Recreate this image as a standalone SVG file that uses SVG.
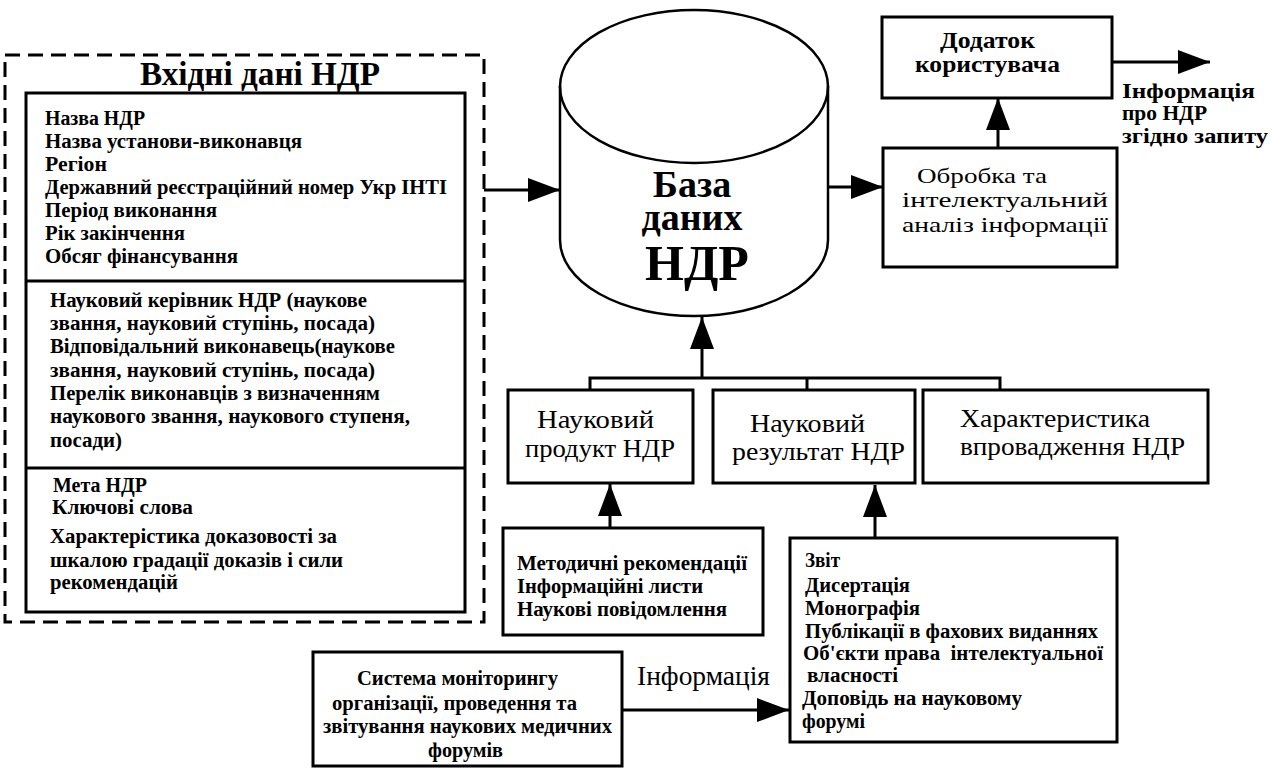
<svg xmlns="http://www.w3.org/2000/svg" width="1281" height="769" viewBox="0 0 1281 769">
<style>
.box{fill:#fff;stroke:#000;stroke-width:3}
.thin{fill:none;stroke:#000;stroke-width:2.5}
.dash{fill:none;stroke:#000;stroke-width:3;stroke-dasharray:15 8}
.ln{fill:none;stroke:#000;stroke-width:3}
text{font-family:'Liberation Serif','DejaVu Serif',serif;fill:#000}
.b{font-weight:bold}
.s20{font-size:20.5px}
.s18{font-size:20px}
.lab{font-size:26px}
.c{text-anchor:middle}
</style>
<defs>
<marker id="ah" viewBox="0 0 32 24" refX="32" refY="12" markerWidth="32" markerHeight="24" markerUnits="userSpaceOnUse" orient="auto">
<path d="M0,0 L32,12 L0,24 z" fill="#000"/>
</marker>
</defs>
<rect width="1281" height="769" fill="#fff"/>

<g id="input-data">
<rect class="dash" x="5" y="55" width="479" height="567"/>
<text class="b c" x="260" y="85" font-size="33" textLength="240" lengthAdjust="spacingAndGlyphs">Вхідні дані НДР</text>
<rect class="box" x="26" y="93" width="439" height="519"/>
<line class="ln" x1="26" y1="281" x2="465" y2="281"/>
<line class="ln" x1="26" y1="468" x2="465" y2="468"/>
<g class="b s20">
<text x="45" y="125" textLength="100" lengthAdjust="spacingAndGlyphs">Назва НДР</text>
<text x="45" y="148" textLength="257" lengthAdjust="spacingAndGlyphs">Назва установи-виконавця</text>
<text x="45" y="171" textLength="62" lengthAdjust="spacingAndGlyphs">Регіон</text>
<text x="45" y="194" textLength="402" lengthAdjust="spacingAndGlyphs">Державний реєстраційний номер Укр ІНТІ</text>
<text x="45" y="217" textLength="172" lengthAdjust="spacingAndGlyphs">Період виконання</text>
<text x="45" y="240" textLength="140" lengthAdjust="spacingAndGlyphs">Рік закінчення</text>
<text x="45" y="263" textLength="193" lengthAdjust="spacingAndGlyphs">Обсяг фінансування</text>
<text x="50" y="307" textLength="317" lengthAdjust="spacingAndGlyphs">Науковий керівник НДР (наукове</text>
<text x="50" y="330" textLength="325" lengthAdjust="spacingAndGlyphs">звання, науковий ступінь, посада)</text>
<text x="50" y="353" textLength="345" lengthAdjust="spacingAndGlyphs">Відповідальний виконавець(наукове</text>
<text x="50" y="377" textLength="325" lengthAdjust="spacingAndGlyphs">звання, науковий ступінь, посада)</text>
<text x="50" y="400" textLength="330" lengthAdjust="spacingAndGlyphs">Перелік виконавців з визначенням</text>
<text x="50" y="423" textLength="360" lengthAdjust="spacingAndGlyphs">наукового звання, наукового ступеня,</text>
<text x="50" y="447" textLength="72" lengthAdjust="spacingAndGlyphs">посади)</text>
<text x="53" y="492" textLength="94" lengthAdjust="spacingAndGlyphs">Мета НДР</text>
<text x="52" y="514" textLength="141" lengthAdjust="spacingAndGlyphs">Ключові слова</text>
<text x="50" y="543" textLength="287" lengthAdjust="spacingAndGlyphs">Характерістика доказовості за</text>
<text x="50" y="567" textLength="293" lengthAdjust="spacingAndGlyphs">шкалою градації доказів і сили</text>
<text x="50" y="589" textLength="128" lengthAdjust="spacingAndGlyphs">рекомендацій</text>
</g>
</g>

<g id="database">
<path class="thin" d="M560,86 V240 A134,76 0 0 0 828,240 V86"/>
<ellipse class="thin" cx="694" cy="86.5" rx="134" ry="76.5"/>
<text class="b c" font-size="38"><tspan x="692" y="197">База</tspan><tspan x="692" y="230">даних</tspan></text>
<text class="b c" x="697" y="280" font-size="50">НДР</text>
</g>

<g id="user-app">
<rect class="box" x="882" y="17" width="230" height="81"/>
<text class="b c" x="987.5" y="48" font-size="24" textLength="95" lengthAdjust="spacingAndGlyphs">Додаток</text>
<text class="b c" x="987.5" y="72" font-size="24" textLength="145" lengthAdjust="spacingAndGlyphs">користувача</text>
</g>

<g id="processing">
<rect class="box" x="883" y="148" width="234" height="119"/>
<text x="917" y="183" font-size="22" textLength="130" lengthAdjust="spacingAndGlyphs">Обробка та</text>
<text x="902" y="207" font-size="22" textLength="206" lengthAdjust="spacingAndGlyphs">інтелектуальний</text>
<text x="902" y="232" font-size="22" textLength="206" lengthAdjust="spacingAndGlyphs">аналіз інформації</text>
</g>

<g id="output-label">
<text class="b" x="1122" y="98" font-size="20" textLength="133" lengthAdjust="spacingAndGlyphs">Інформація</text>
<text class="b" x="1122" y="120" font-size="20" textLength="85" lengthAdjust="spacingAndGlyphs">про НДР</text>
<text class="b" x="1122" y="143" font-size="20" textLength="146" lengthAdjust="spacingAndGlyphs">згідно запиту</text>
</g>

<g id="sci-product">
<rect class="box" x="508" y="390" width="185" height="93"/>
<text class="lab" x="537" y="428" textLength="117" lengthAdjust="spacingAndGlyphs">Науковий</text>
<text class="lab" x="525" y="457" textLength="150" lengthAdjust="spacingAndGlyphs">продукт НДР</text>
</g>

<g id="sci-result">
<rect class="box" x="713" y="390" width="202" height="93"/>
<text class="lab" x="750" y="432" textLength="115" lengthAdjust="spacingAndGlyphs">Науковий</text>
<text class="lab" x="732" y="460" textLength="173" lengthAdjust="spacingAndGlyphs">результат НДР</text>
</g>

<g id="implementation">
<rect class="box" x="923" y="390" width="285" height="93"/>
<text class="lab" x="960" y="427" textLength="190" lengthAdjust="spacingAndGlyphs">Характеристика</text>
<text class="lab" x="960" y="455" textLength="225" lengthAdjust="spacingAndGlyphs">впровадження НДР</text>
</g>

<g id="product-list">
<rect class="box" x="503" y="528" width="260" height="107"/>
<g class="b s18">
<text x="517" y="570" textLength="230" lengthAdjust="spacingAndGlyphs">Методичні рекомендації</text>
<text x="517" y="593" textLength="186" lengthAdjust="spacingAndGlyphs">Інформаційні листи</text>
<text x="517" y="616" textLength="210" lengthAdjust="spacingAndGlyphs">Наукові повідомлення</text>
</g>
</g>

<g id="result-list">
<rect class="box" x="790" y="538" width="327" height="204"/>
<g class="b s18">
<text x="805" y="567" textLength="35" lengthAdjust="spacingAndGlyphs">Звіт</text>
<text x="805" y="592" textLength="105" lengthAdjust="spacingAndGlyphs">Дисертація</text>
<text x="805" y="615" textLength="115" lengthAdjust="spacingAndGlyphs">Монографія</text>
<text x="805" y="638" textLength="293" lengthAdjust="spacingAndGlyphs">Публікації в фахових виданнях</text>
<text x="803" y="660" textLength="300" lengthAdjust="spacingAndGlyphs">Об'єкти права&#160; інтелектуальної</text>
<text x="807" y="682" textLength="91" lengthAdjust="spacingAndGlyphs">власності</text>
<text x="802" y="705" textLength="220" lengthAdjust="spacingAndGlyphs">Доповідь на науковому</text>
<text x="802" y="728" textLength="63" lengthAdjust="spacingAndGlyphs">форумі</text>
</g>
</g>

<g id="monitoring">
<rect class="box" x="313" y="652" width="309" height="114"/>
<g class="b s18">
<text x="357" y="685" textLength="201" lengthAdjust="spacingAndGlyphs">Система моніторингу</text>
<text x="332" y="710" textLength="245" lengthAdjust="spacingAndGlyphs">організації, проведення та</text>
<text x="323" y="733" textLength="289" lengthAdjust="spacingAndGlyphs">звітування наукових медичних</text>
<text x="428" y="757" textLength="75" lengthAdjust="spacingAndGlyphs">форумів</text>
</g>
</g>

<g id="connectors">
<line class="ln" x1="484" y1="190" x2="560" y2="190" marker-end="url(#ah)"/>
<line class="ln" x1="828" y1="187" x2="883" y2="187" marker-end="url(#ah)"/>
<line class="ln" x1="998" y1="148" x2="998" y2="98" marker-end="url(#ah)"/>
<line class="ln" x1="1112" y1="62" x2="1210" y2="62" marker-end="url(#ah)"/>
<path class="ln" d="M590,390 V378 H1000 V390 M807,378 V390"/>
<line class="ln" x1="702" y1="378" x2="702" y2="317" marker-end="url(#ah)"/>
<line class="ln" x1="610" y1="528" x2="610" y2="484" marker-end="url(#ah)"/>
<line class="ln" x1="875" y1="538" x2="875" y2="485" marker-end="url(#ah)"/>
<line class="ln" x1="622" y1="710" x2="789" y2="710" marker-end="url(#ah)"/>
<text x="637" y="685" font-size="27" textLength="133" lengthAdjust="spacingAndGlyphs">Інформація</text>
</g>
</svg>
